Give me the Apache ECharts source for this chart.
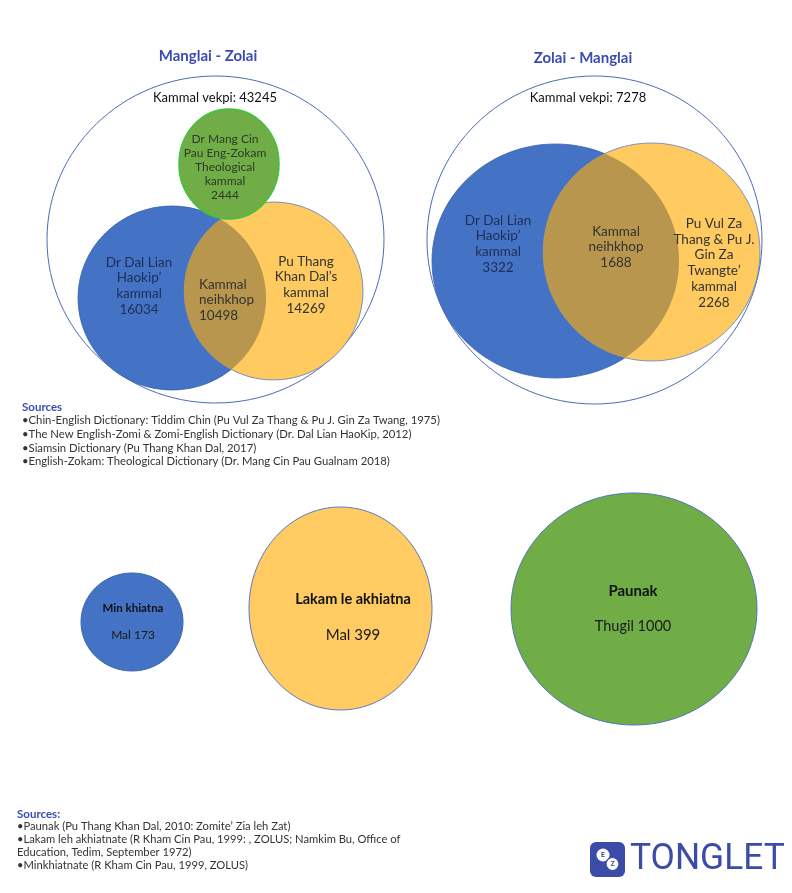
<!DOCTYPE html>
<html>
<head>
<meta charset="utf-8">
<script src="https://cdn.jsdelivr.net/npm/echarts@6/dist/echarts.min.js"></script>
<style>
  html, body { margin: 0; padding: 0; background: #fff; }
  #main { width: 792px; height: 893px; }
</style>
</head>
<body>
<div id="main"></div>
<script>
// Manglai - Zolai
var mzNames = ['Dr Dal Lian\nHaokip’\nkammal', 'Pu Thang\nKhan Dal’s\nkammal', 'Dr Mang Cin\nPau Eng-Zokam\nTheological\nkammal'];
var mzCounts = [16034, 14269, 2444];
var mzCommon = 10498;
var mzTotal = 43245;

// Zolai - Manglai
var zmNames = ['Dr Dal Lian\nHaokip’\nkammal', 'Pu Vul Za\nThang & Pu J.\nGin Za\nTwangte’\nkammal'];
var zmCounts = [3322, 2268];
var zmCommon = 1688;
var zmTotal = 7278;

// bottom row
var bookNames = ['Min khiatna', 'Lakam le akhiatna', 'Paunak'];
var bookUnits = ['Mal', 'Mal', 'Thugil'];
var bookCounts = [173, 399, 1000];

var sources1 = [
  '•Chin-English Dictionary: Tiddim Chin (Pu Vul Za Thang & Pu J. Gin Za Twang, 1975)',
  '•The New English-Zomi & Zomi-English Dictionary (Dr. Dal Lian HaoKip, 2012)',
  '•Siamsin Dictionary (Pu Thang Khan Dal, 2017)',
  '•English-Zokam: Theological Dictionary (Dr. Mang Cin Pau Gualnam 2018)'
];
var sources2 = [
  '•Paunak (Pu Thang Khan Dal, 2010: Zomite’ Zia leh Zat)',
  '•Lakam leh akhiatnate (R Kham Cin Pau, 1999: , ZOLUS; Namkim Bu, Office of',
  'Education, Tedim, September 1972)',
  '•Minkhiatnate (R Kham Cin Pau, 1999, ZOLUS)'
];

// layout (pixels): ellipse = [cx, cy, rx, ry]
var BLUE = '#4472c4', GOLD = '#ffca5f', GREEN = '#70ad47', MIX = '#b8964d';
var FONT = 'Lato, "Noto Sans", sans-serif';

var mzLayout = {
  outer: [215.5, 239.5, 168.5, 163.5],
  sets: [[172, 298, 94, 92], [273.5, 291, 89.5, 89], [229, 164, 50, 55]],
  fills: [BLUE, GOLD, GREEN],
  strokes: ['#3a63ad', '#5b7dbf', '#3cc43c'],
  labels: [[139, 286], [306, 285], [225, 167]],
  labelSize: [13.5, 13.5, 12],
  labelColor: ['#1f2f57', '#333', '#2e3a28'],
  common: [199, 300, 'left'],
  total: [215, 98]
};
var zmLayout = {
  outer: [594.5, 240, 167.5, 164],
  sets: [[555.5, 261, 123.5, 117], [651.5, 252, 108.5, 109]],
  fills: [BLUE, GOLD],
  strokes: ['#3a63ad', '#5b7dbf'],
  labels: [[498, 244], [714, 263]],
  labelSize: [13.5, 13.5],
  labelColor: ['#1f2f57', '#333'],
  common: [616, 247, 'center'],
  total: [588, 98]
};
var bookLayout = {
  sets: [[132, 622, 51, 49], [340.5, 608.5, 91.5, 101.5], [634, 609, 123, 116]],
  fills: [BLUE, '#ffcb62', GREEN],
  strokes: ['#3d66b2', '#5b7bbf', '#4f77b9'],
  name: [[133, 608, 11.5], [353, 599, 14.5], [633, 591, 15]],
  count: [[133, 635, 12], [353, 635, 15], [633, 626, 14.5]]
};

function ell(api, e) {
  var p = api.coord([e[0], e[1]]);
  var s = api.size([e[2], e[3]], [e[0], e[1]]);
  return { cx: p[0], cy: p[1], rx: s[0], ry: s[1] };
}

function inside(p, e) {
  var dx = (p[0] - e.cx) / e.rx, dy = (p[1] - e.cy) / e.ry;
  return dx * dx + dy * dy <= 1;
}

function lensPoints(a, b) {
  var pts = [];
  for (var i = 0; i < 720; i++) {
    var t = i * Math.PI / 360;
    var p = [a.cx + a.rx * Math.cos(t), a.cy + a.ry * Math.sin(t)];
    if (inside(p, b)) pts.push(p);
    var q = [b.cx + b.rx * Math.cos(t), b.cy + b.ry * Math.sin(t)];
    if (inside(q, a)) pts.push(q);
  }
  var mx = 0, my = 0;
  pts.forEach(function (p) { mx += p[0]; my += p[1]; });
  mx /= pts.length; my /= pts.length;
  pts.sort(function (p, q) {
    return Math.atan2(p[1] - my, p[0] - mx) - Math.atan2(q[1] - my, q[0] - mx);
  });
  return pts;
}

function label(api, xy, text, size, color, align, weight) {
  var p = api.coord([xy[0], xy[1]]);
  return {
    type: 'text', z2: 50,
    style: {
      text: text, x: p[0], y: p[1],
      align: align || 'center', verticalAlign: 'middle',
      fontFamily: FONT, fontSize: size, fontWeight: weight || 'normal',
      lineHeight: Math.round(size * 1.17 * 10) / 10, fill: color
    }
  };
}

// roles: 'total', 0..n-1 = set index, 'common'
function vennSeries(lay, names, counts, common, total) {
  var roles = ['total'];
  var values = [total];
  counts.forEach(function (c, i) { roles.push(i); values.push(c); });
  roles.push('common'); values.push(common);
  // third set (green) is drawn above the overlap
  if (counts.length > 2) {
    roles = ['total', 0, 1, 'common', 2];
    values = [total, counts[0], counts[1], common, counts[2]];
  }
  return {
    type: 'custom',
    coordinateSystem: 'cartesian2d',
    silent: true,
    data: values.map(function (v) { return [v]; }),
    renderItem: function (params, api) {
      var role = roles[params.dataIndex];
      var v = api.value(0);
      if (role === 'total') {
        var o = ell(api, lay.outer);
        return {
          type: 'group', children: [
            { type: 'ellipse', z2: 1, shape: o, style: { fill: 'none', stroke: '#4a6cb3', lineWidth: 1 } },
            label(api, lay.total, 'Kammal vekpi: ' + v, 13, '#111')
          ]
        };
      }
      if (role === 'common') {
        var a = ell(api, lay.sets[0]), b = ell(api, lay.sets[1]);
        return {
          type: 'group', children: [
            { type: 'polygon', z2: 20, shape: { points: lensPoints(a, b) }, style: { fill: MIX } },
            label(api, [lay.common[0], lay.common[1]], 'Kammal\nneihkhop\n' + v, 13.5, '#333', lay.common[2])
          ]
        };
      }
      var e = ell(api, lay.sets[role]);
      return {
        type: 'group', children: [
          { type: 'ellipse', z2: 10 + role * (role === 2 ? 15 : 1), shape: e,
            style: { fill: lay.fills[role], stroke: lay.strokes[role], lineWidth: role === 2 ? 1.5 : 0.8 } },
          label(api, lay.labels[role], names[role] + '\n' + v, lay.labelSize[role], lay.labelColor[role])
        ]
      };
    }
  };
}

var bookSeries = {
  type: 'custom',
  coordinateSystem: 'cartesian2d',
  silent: true,
  data: bookCounts.map(function (v) { return [v]; }),
  renderItem: function (params, api) {
    var i = params.dataIndex;
    var e = ell(api, bookLayout.sets[i]);
    var n = bookLayout.name[i], c = bookLayout.count[i];
    return {
      type: 'group', children: [
        { type: 'ellipse', z2: 5, shape: e, style: { fill: bookLayout.fills[i], stroke: bookLayout.strokes[i], lineWidth: 1 } },
        label(api, n, bookNames[i], n[2], '#111', 'center', 'bold'),
        label(api, c, bookUnits[i] + ' ' + api.value(0), c[2], '#1a1a1a')
      ]
    };
  }
};

var chart = echarts.init(document.getElementById('main'), null, { renderer: 'canvas' });

var option = {
  backgroundColor: '#ffffff',
  animation: false,
  grid: { left: 0, right: 0, top: 0, bottom: 0 },
  xAxis: { type: 'value', min: 0, max: 792, show: false },
  yAxis: { type: 'value', min: 0, max: 893, inverse: true, show: false },
  series: [
    vennSeries(mzLayout, mzNames, mzCounts, mzCommon, mzTotal),
    vennSeries(zmLayout, zmNames, zmCounts, zmCommon, zmTotal),
    bookSeries
  ],
  graphic: [
    { type: 'text', x: 208, y: 56, style: { text: 'Manglai - Zolai', align: 'center', verticalAlign: 'middle', fontFamily: FONT, fontSize: 15, fontWeight: 'bold', fill: '#3b4cb0' } },
    { type: 'text', x: 583, y: 58, style: { text: 'Zolai - Manglai', align: 'center', verticalAlign: 'middle', fontFamily: FONT, fontSize: 15, fontWeight: 'bold', fill: '#3b4cb0' } },
    { type: 'text', x: 22, y: 407, style: { text: 'Sources', verticalAlign: 'middle', fontFamily: FONT, fontSize: 11.5, fontWeight: 'bold', fill: '#3b4cb0' } },
    { type: 'text', x: 22, y: 413.9, style: { text: sources1.join('\n'), verticalAlign: 'top', lineHeight: 13.7, fontFamily: FONT, fontSize: 11.3, fill: '#333' } },
    { type: 'text', x: 17, y: 814, style: { text: 'Sources:', verticalAlign: 'middle', fontFamily: FONT, fontSize: 11.5, fontWeight: 'bold', fill: '#3b4cb0' } },
    { type: 'text', x: 17, y: 820.3, style: { text: sources2.join('\n'), verticalAlign: 'top', lineHeight: 12.8, fontFamily: FONT, fontSize: 11.2, fill: '#333' } },
    // TONGLET logo
    { type: 'rect', x: 590, y: 842, shape: { width: 35, height: 35, r: 6 }, style: { fill: '#3b4ca8' } },
    { type: 'circle', shape: { cx: 603, cy: 855, r: 6.5 }, style: { fill: '#fff' } },
    { type: 'circle', shape: { cx: 612.5, cy: 864, r: 6.5 }, style: { fill: '#fff', stroke: '#3b4ca8', lineWidth: 1.2 } },
    { type: 'text', x: 603, y: 855, style: { text: 'E', align: 'center', verticalAlign: 'middle', fontFamily: 'Roboto', fontSize: 7, fontWeight: 'bold', fill: '#3b4ca8' } },
    { type: 'text', x: 612.5, y: 864.5, style: { text: 'Z', align: 'center', verticalAlign: 'middle', fontFamily: 'Roboto', fontSize: 7, fontWeight: 'bold', fill: '#3b4ca8' } },
    { type: 'text', x: 630, y: 860, scaleX: 0.955, style: { text: 'TONGLET', verticalAlign: 'middle', fontFamily: 'Roboto', fontSize: 37, fill: '#3b4ca8' } }
  ]
};

chart.setOption(option);
</script>
</body>
</html>
